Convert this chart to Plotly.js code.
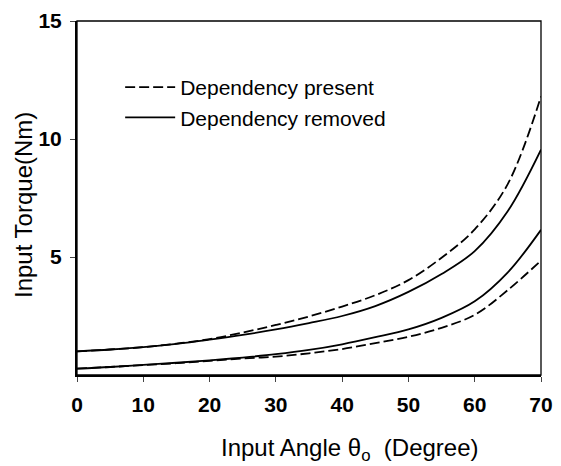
<!DOCTYPE html>
<html>
<head>
<meta charset="utf-8">
<script src="https://cdn.plot.ly/plotly-3.0.1.min.js"></script>
<style>html,body{margin:0;padding:0;background:#fff;}#chart{width:561px;height:466px;}</style>
</head>
<body>
<div id="chart"></div>
<script>
const angle = [0, 5, 10, 15, 20, 25, 30, 35, 40, 45, 50, 55, 60, 65, 70];
const presentHigh = [1.0, 1.08, 1.18, 1.33, 1.52, 1.8, 2.12, 2.48, 2.9, 3.38, 4.02, 4.97, 6.17, 8.1, 11.8];
const removedHigh = [1.0, 1.08, 1.18, 1.32, 1.5, 1.7, 1.93, 2.2, 2.5, 2.92, 3.52, 4.28, 5.25, 6.95, 9.55];
const removedLow = [0.27, 0.34, 0.43, 0.52, 0.62, 0.74, 0.88, 1.06, 1.3, 1.6, 1.93, 2.42, 3.12, 4.35, 6.15];
const presentLow = [0.27, 0.34, 0.42, 0.5, 0.6, 0.7, 0.78, 0.92, 1.1, 1.35, 1.62, 2.0, 2.55, 3.6, 4.85];
const xTicks = [0, 10, 20, 30, 40, 50, 60, 70];
const yTicks = [5, 10, 15];
const xTitle = 'Input Angle θ<sub>o</sub>  (Degree)';
const yTitle = 'Input Torque(Nm)';

const dashed = {color: '#000', width: 1.8, dash: '10px,4px', shape: 'spline'};
const solid = {color: '#000', width: 1.8, shape: 'spline'};

const traces = [
  {x: angle, y: presentHigh, mode: 'lines', name: 'Dependency present', line: dashed, legendgroup: 'p'},
  {x: angle, y: removedHigh, mode: 'lines', name: 'Dependency removed', line: solid, legendgroup: 'r'},
  {x: angle, y: removedLow, mode: 'lines', name: 'Dependency removed', line: solid, legendgroup: 'r', showlegend: false},
  {x: angle, y: presentLow, mode: 'lines', name: 'Dependency present', line: dashed, legendgroup: 'p', showlegend: false}
];

const fam = 'Liberation Sans, Arial, sans-serif';
const layout = {
  width: 561, height: 466,
  margin: {l: 77, r: 20, t: 21, b: 91},
  paper_bgcolor: '#fff', plot_bgcolor: '#fff',
  font: {family: fam, color: '#000'},
  showlegend: true,
  legend: {x: 0.093, y: 0.87, xanchor: 'left', yanchor: 'top', bgcolor: 'rgba(0,0,0,0)',
           font: {size: 21, color: '#000'}, itemwidth: 50, tracegroupgap: 0},
  xaxis: {range: [0, 70], tickvals: xTicks, ticks: 'outside', ticklen: 5, tickwidth: 1,
          ticklabelstandoff: 5,
          showline: true, linewidth: 2, linecolor: '#000', showgrid: false, zeroline: false,
          tickfont: {size: 21, family: fam, weight: 'bold'}},
  yaxis: {range: [0, 15], tickvals: yTicks, ticks: 'outside', ticklen: 5, tickwidth: 1,
          ticklabelstandoff: 4,
          showline: true, linewidth: 2, linecolor: '#000', showgrid: false, zeroline: false,
          tickfont: {size: 21, family: fam, weight: 'bold'}},
  annotations: [
    {text: xTitle, xref: 'paper', yref: 'paper', x: (350 - 77) / 464, y: -(449 - 375) / 354,
     xanchor: 'center', yanchor: 'middle', showarrow: false, font: {size: 24}},
    {text: yTitle, xref: 'paper', yref: 'paper', x: -(77 - 23) / 464, y: (375 - 205) / 354,
     xanchor: 'center', yanchor: 'middle', textangle: -90, showarrow: false, font: {size: 24}}
  ],
  shapes: [{type: 'rect', xref: 'paper', yref: 'paper', x0: 0, x1: 1, y0: 0, y1: 1,
            line: {color: '#000', width: 1.3}}]
};

Plotly.newPlot('chart', traces, layout, {displayModeBar: false, staticPlot: true});
</script>
</body>
</html>
